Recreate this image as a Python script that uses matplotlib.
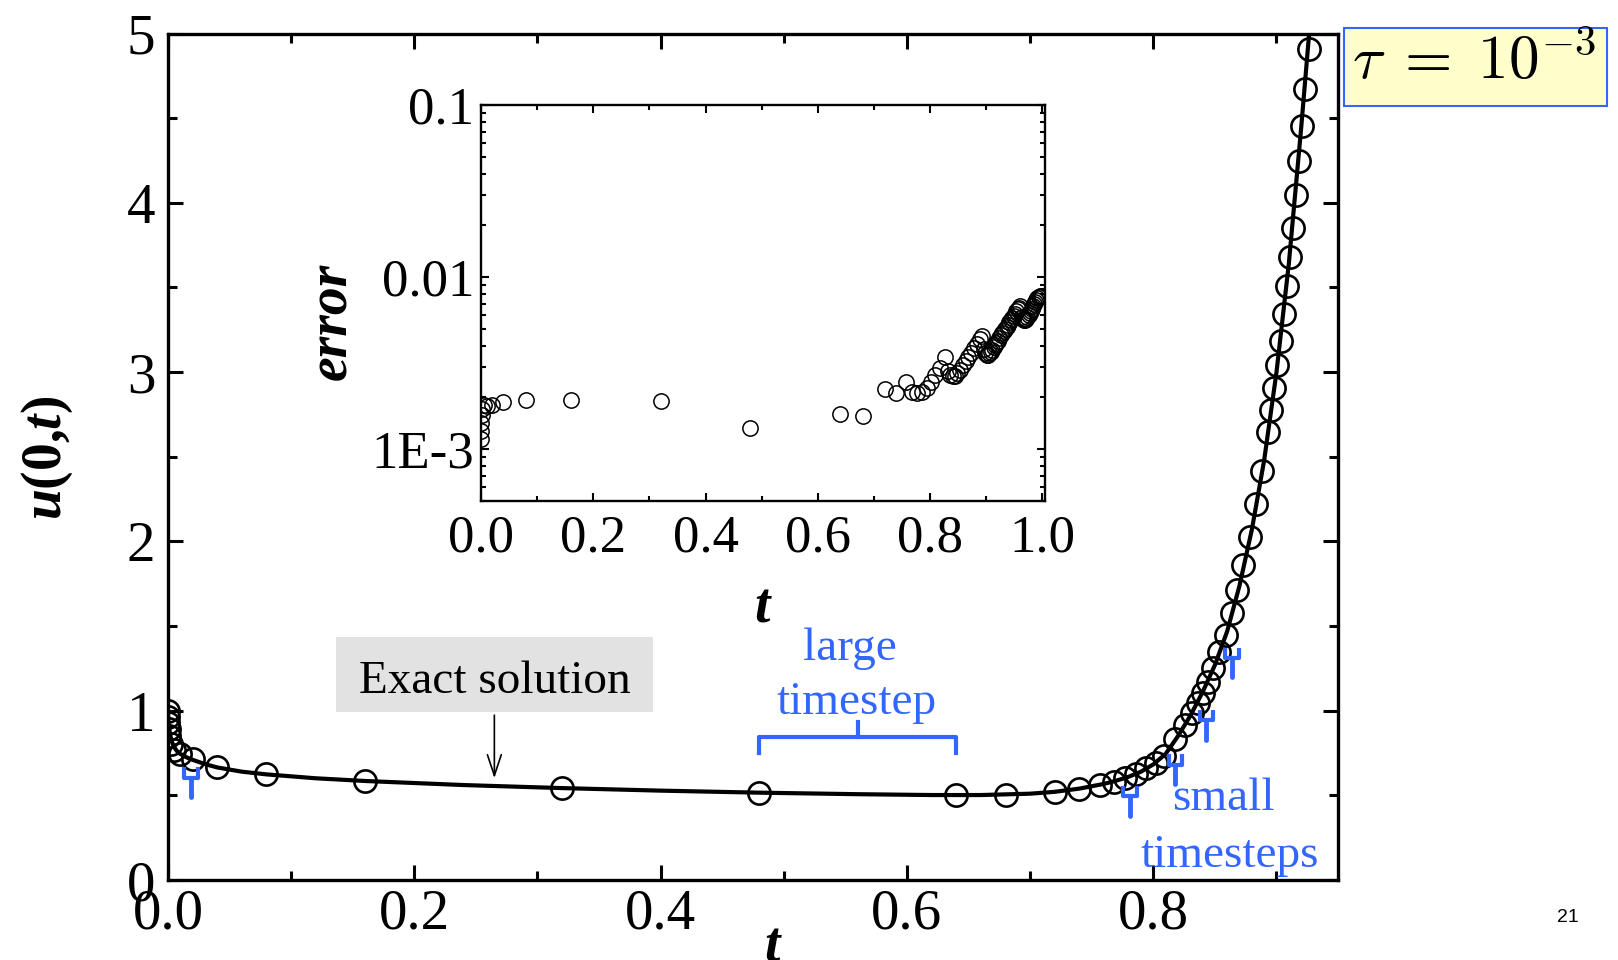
import matplotlib
matplotlib.use('Agg')
import matplotlib.pyplot as plt
from matplotlib.patches import Rectangle
from matplotlib.ticker import MultipleLocator, FixedLocator, FixedFormatter, LogLocator, NullFormatter

plt.rcParams['font.family'] = ['Liberation Serif', 'DejaVu Serif']
plt.rcParams['mathtext.fontset'] = 'custom'
plt.rcParams['mathtext.rm'] = 'Liberation Serif:bold'
plt.rcParams['mathtext.it'] = 'Liberation Serif:italic:bold'
plt.rcParams['mathtext.bf'] = 'Liberation Serif:bold'

BLUE = '#3366ff'

# numerical solution u(0,t) at the adaptive timesteps
t_num = [0.0, 0.00016, 0.00031, 0.000625, 0.00125, 0.0025, 0.005, 0.01, 0.02, 0.04,
         0.08, 0.16, 0.32, 0.48, 0.64, 0.68, 0.72, 0.74, 0.757, 0.768,
         0.777, 0.786, 0.794, 0.802, 0.809, 0.8175, 0.826, 0.8316, 0.8364, 0.8402,
         0.8446, 0.8486, 0.8532, 0.8586, 0.8635, 0.8683, 0.8729, 0.8786, 0.8836, 0.8884,
         0.8932, 0.8959, 0.8983, 0.9008, 0.9035, 0.9057, 0.9084, 0.9108, 0.9133, 0.9157,
         0.918, 0.9205, 0.9235, 0.9265]
u_num = [1.0, 0.96, 0.93, 0.89, 0.85, 0.805, 0.77, 0.745, 0.712, 0.665,
         0.624, 0.585, 0.545, 0.516, 0.503, 0.505, 0.52, 0.539, 0.563, 0.581,
         0.601, 0.626, 0.66, 0.693, 0.732, 0.831, 0.916, 0.985, 1.047, 1.103,
         1.171, 1.25, 1.349, 1.447, 1.575, 1.713, 1.861, 2.028, 2.22, 2.417,
         2.648, 2.776, 2.904, 3.041, 3.185, 3.343, 3.508, 3.677, 3.852, 4.045,
         4.246, 4.453, 4.675, 4.911]

# exact solution
t_exact = [0.0, 0.0005, 0.001, 0.002, 0.003, 0.005, 0.0075, 0.01, 0.015, 0.02,
           0.03, 0.04, 0.06, 0.08, 0.12, 0.16, 0.24, 0.32, 0.40, 0.48,
           0.56, 0.62, 0.66, 0.70, 0.72, 0.74, 0.76, 0.77, 0.78, 0.79,
           0.80, 0.81, 0.82, 0.83, 0.84, 0.85, 0.86, 0.87, 0.88, 0.89,
           0.90, 0.91, 0.92, 0.93]
u_exact = [1.0, 0.93, 0.895, 0.85, 0.82, 0.785, 0.76, 0.745, 0.725, 0.71,
           0.685, 0.665, 0.64, 0.624, 0.601, 0.585, 0.561, 0.543, 0.528, 0.516,
           0.507, 0.502, 0.502, 0.51, 0.521, 0.54, 0.568, 0.587, 0.61, 0.64,
           0.683, 0.745, 0.85, 0.97, 1.11, 1.27, 1.47, 1.74, 2.07, 2.48,
           3.00, 3.64, 4.44, 5.3]

# inset: error of the numerical solution
t_err = [0.00016, 0.00031, 0.000625, 0.00125, 0.0025, 0.005, 0.01, 0.02, 0.04, 0.08,
         0.16, 0.32, 0.48, 0.64, 0.68, 0.72, 0.74, 0.757, 0.768, 0.777,
         0.786, 0.794, 0.802, 0.809, 0.8175, 0.826, 0.8316, 0.8364, 0.8402, 0.8446,
         0.8486, 0.8532, 0.8586, 0.8635, 0.8683, 0.8729, 0.8786, 0.8836, 0.8884, 0.8932,
         0.8959, 0.8983, 0.9008, 0.9035, 0.9057, 0.9084, 0.9108, 0.9133, 0.9157, 0.918,
         0.9205, 0.9235, 0.9265, 0.929, 0.9315, 0.934, 0.9365, 0.939, 0.9415, 0.944,
         0.9465, 0.949, 0.9515, 0.954, 0.9565, 0.959, 0.961, 0.9635, 0.9655, 0.9675,
         0.9695, 0.9715, 0.9735, 0.9755, 0.9775, 0.9795, 0.9815, 0.9835, 0.9855, 0.9875,
         0.9895, 0.9915, 0.9935, 0.9955, 0.9975, 0.9995]
err = [1.15e-3, 1.28e-3, 1.42e-3, 1.58e-3, 1.72e-3, 1.80e-3, 1.78e-3, 1.80e-3, 1.88e-3, 1.93e-3,
       1.94e-3, 1.91e-3, 1.32e-3, 1.61e-3, 1.55e-3, 2.25e-3, 2.11e-3, 2.47e-3, 2.16e-3, 2.11e-3,
       2.16e-3, 2.26e-3, 2.45e-3, 2.69e-3, 2.95e-3, 3.44e-3, 2.85e-3, 2.70e-3, 2.66e-3, 2.68e-3,
       2.76e-3, 2.90e-3, 3.09e-3, 3.27e-3, 3.45e-3, 3.63e-3, 3.88e-3, 4.11e-3, 4.35e-3, 4.52e-3,
       3.80e-3, 3.62e-3, 3.55e-3, 3.55e-3, 3.60e-3, 3.68e-3, 3.78e-3, 3.90e-3, 4.02e-3, 4.14e-3,
       4.27e-3, 4.42e-3, 4.58e-3, 4.72e-3, 4.86e-3, 5.00e-3, 5.15e-3, 5.30e-3, 5.46e-3, 5.62e-3,
       5.79e-3, 5.96e-3, 6.14e-3, 6.32e-3, 6.50e-3, 6.66e-3, 6.75e-3, 5.90e-3, 5.70e-3, 5.62e-3,
       5.62e-3, 5.70e-3, 5.85e-3, 6.00e-3, 6.18e-3, 6.36e-3, 6.55e-3, 6.75e-3, 6.95e-3, 7.15e-3,
       7.35e-3, 7.52e-3, 7.65e-3, 7.72e-3, 7.78e-3, 7.80e-3]

# small-timestep markers (t, top of fork)
fork_t = [0.0188, 0.781, 0.818, 0.843, 0.864]
fork_top = [0.665, 0.555, 0.742, 1.004, 1.372]

fig = plt.figure(figsize=(16.18, 9.6), dpi=100)

# main axes
ax = fig.add_axes([0.1038, 0.0833, 0.7232, 0.8818])
ax.plot(t_exact, u_exact, '-', color='black', lw=3, zorder=2)
ax.plot(t_num, u_num, 'o', ms=16, mfc='none', mec='black', mew=1.9, zorder=3)
ax.set_xlim(0, 0.95)
ax.set_ylim(0, 5)
ax.xaxis.set_major_locator(MultipleLocator(0.2))
ax.xaxis.set_minor_locator(MultipleLocator(0.1))
ax.yaxis.set_major_locator(MultipleLocator(1))
ax.yaxis.set_minor_locator(MultipleLocator(0.5))
ax.tick_params(which='both', direction='in', top=True, right=True, width=2.2)
ax.tick_params(which='major', length=11, labelsize=41)
ax.tick_params(which='minor', length=6.5)
ax.tick_params(axis='x', pad=6)
ax.tick_params(axis='y', pad=9)
for s in ax.spines.values():
    s.set_linewidth(2.4)

fig.text(0.029, 0.523, r'$u$(0,$t$)', rotation=90, ha='center', va='center',
         fontsize=40, fontweight='bold')
fig.text(0.477, -0.002, 't', ha='center', va='baseline', fontsize=40,
         fontstyle='italic', fontweight='bold')

# exact solution label
fig.add_artist(Rectangle((336 / 1618, 1 - 712 / 960), 317 / 1618, 75 / 960,
                         transform=fig.transFigure, facecolor='#e2e2e2',
                         edgecolor='none', zorder=1))
fig.text(494.5 / 1618, 1 - 693 / 960, 'Exact solution', ha='center', va='baseline',
         fontsize=34, zorder=2)
ax.annotate('', xy=(0.265, 0.585), xytext=(0.265, 0.99),
            arrowprops=dict(arrowstyle='->,head_length=0.6,head_width=0.2',
                            lw=1.2, color='black', mutation_scale=25))

# large timestep bracket
ax.plot([0.48, 0.48, 0.64, 0.64], [0.752, 0.846, 0.846, 0.752], color=BLUE, lw=3,
        solid_joinstyle='round', zorder=4)
ax.plot([0.56, 0.56], [0.846, 0.933], color=BLUE, lw=3, zorder=4)
ax.text(0.554, 1.297, 'large', color=BLUE, fontsize=34, ha='center', va='baseline')
ax.text(0.559, 0.98, 'timestep', color=BLUE, fontsize=34, ha='center', va='baseline')

# small timestep forks
w = 0.0055
for ft, top in zip(fork_t, fork_top):
    bar = top - 0.06
    ax.plot([ft - w, ft - w, ft + w, ft + w], [top, bar, bar, top], color=BLUE, lw=3,
            solid_capstyle='butt', zorder=4)
    ax.plot([ft, ft], [bar, bar - 0.115], color=BLUE, lw=3.5,
            solid_capstyle='round', zorder=4)
ax.text(0.857, 0.414, 'small', color=BLUE, fontsize=34, ha='center', va='baseline')
ax.text(0.862, 0.079, 'timesteps', color=BLUE, fontsize=34, ha='center', va='baseline')

# tau box
fig.add_artist(Rectangle((1344 / 1618, 1 - 106 / 960), 263 / 1618, 78 / 960,
                         transform=fig.transFigure, facecolor='#ffffcc',
                         edgecolor=BLUE, lw=1.5))
fig.text(1474 / 1618, 1 - 63 / 960, r'$\tau\;=\;10^{-3}$', ha='center', va='center',
         fontsize=44, math_fontfamily='cm')

fig.text(1568 / 1618, 1 - 918 / 960, '21', ha='center', va='center', fontsize=14,
         family='Liberation Sans')

# inset: error
ins = fig.add_axes([0.2973, 0.4781, 0.3486, 0.4125])
ins.plot(t_err, err, 'o', ms=11, mfc='none', mec='black', mew=1.1)
ins.set_yscale('log')
ins.set_xlim(0, 1.005)
ins.set_ylim(5e-4, 0.1)
ins.xaxis.set_major_locator(MultipleLocator(0.2))
ins.xaxis.set_minor_locator(MultipleLocator(0.1))
ins.yaxis.set_major_locator(FixedLocator([1e-3, 1e-2, 1e-1]))
ins.yaxis.set_major_formatter(FixedFormatter(['1E-3', '0.01', '0.1']))
ins.yaxis.set_minor_locator(LogLocator(base=10, subs=range(2, 10)))
ins.yaxis.set_minor_formatter(NullFormatter())
ins.tick_params(which='both', direction='in', top=True, right=True, width=1.5)
ins.tick_params(which='major', length=6, labelsize=38)
ins.tick_params(which='minor', length=3.5)
ins.tick_params(axis='x', pad=10)
ins.tick_params(axis='y', pad=5)
for s in ins.spines.values():
    s.set_linewidth(1.7)

fig.text(0.2052, 0.6656, 'error', rotation=90, ha='center', va='center', fontsize=40,
         fontstyle='italic', fontweight='bold')
fig.text(0.471, 0.352, 't', ha='center', va='baseline', fontsize=40,
         fontstyle='italic', fontweight='bold')

fig.savefig('out.png', dpi=100)
